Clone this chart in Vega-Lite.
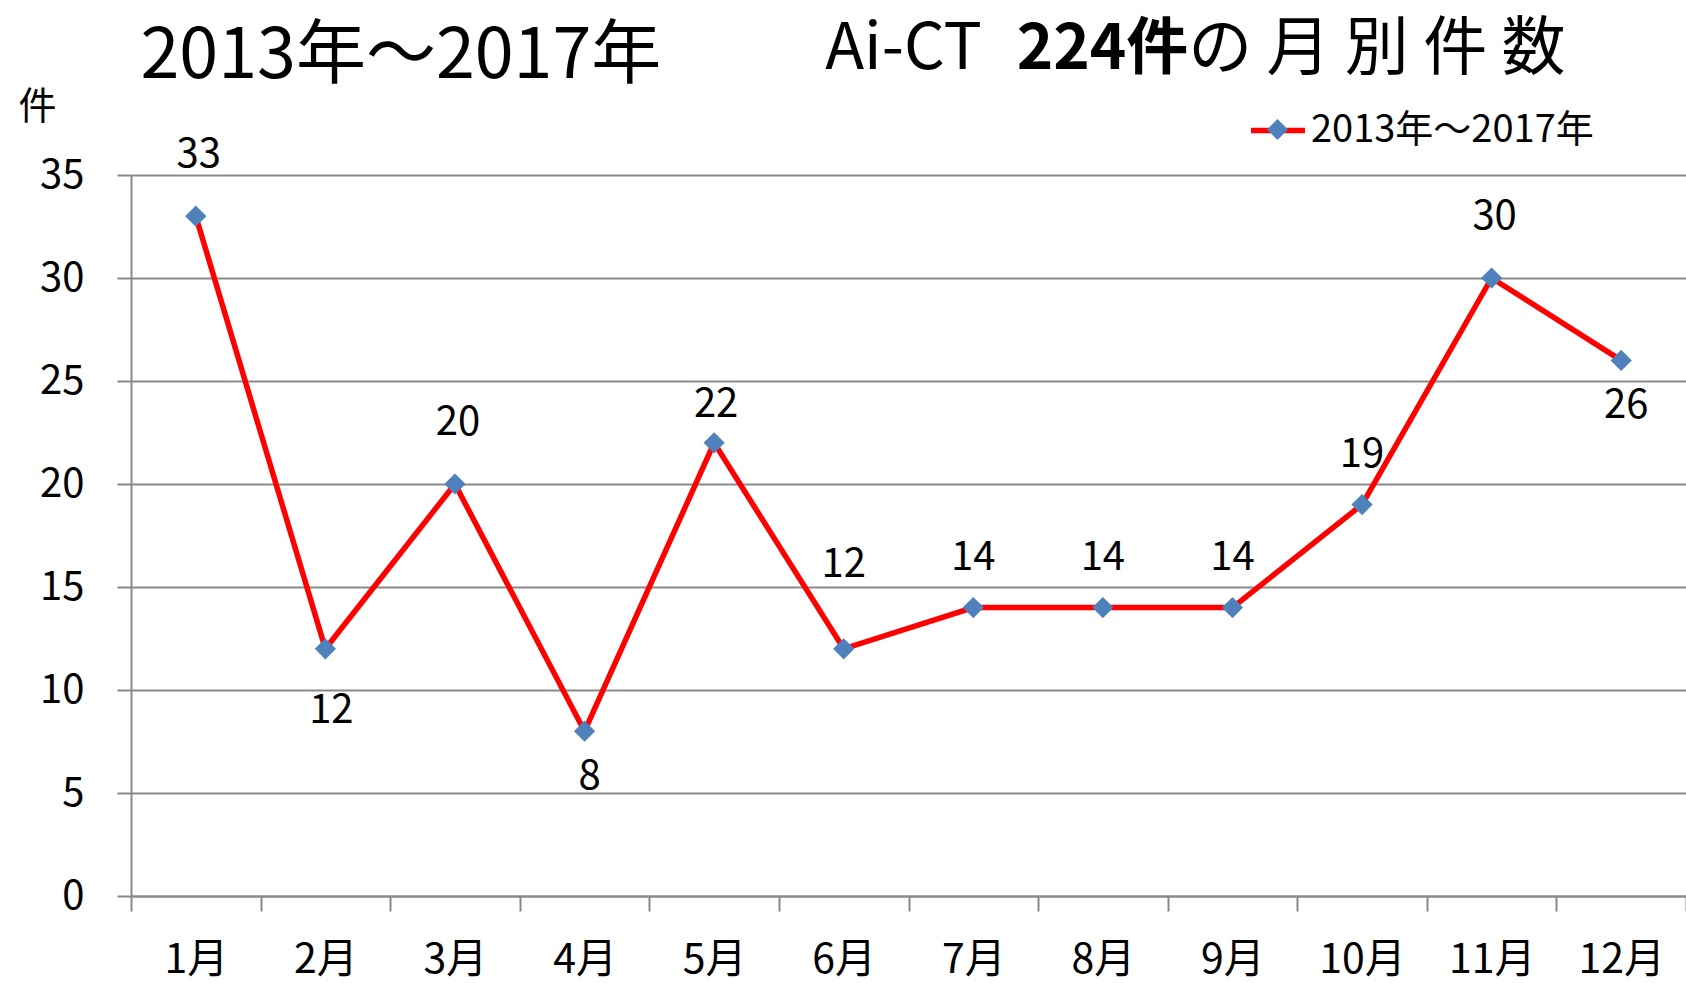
{
  "$schema": "https://vega.github.io/schema/vega-lite/v6.json",
  "width": 1555,
  "height": 721,
  "autosize": {"type": "none"},
  "padding": {"left": 131, "top": 175, "right": 0, "bottom": 87},
  "background": "white",
  "config": {"view": {"stroke": null}, "font": "Noto Sans CJK JP"},
  "data": {
    "values": [
      {"month": "1月", "count": 33, "series": "2013年～2017年"},
      {"month": "2月", "count": 12, "series": "2013年～2017年"},
      {"month": "3月", "count": 20, "series": "2013年～2017年"},
      {"month": "4月", "count": 8, "series": "2013年～2017年"},
      {"month": "5月", "count": 22, "series": "2013年～2017年"},
      {"month": "6月", "count": 12, "series": "2013年～2017年"},
      {"month": "7月", "count": 14, "series": "2013年～2017年"},
      {"month": "8月", "count": 14, "series": "2013年～2017年"},
      {"month": "9月", "count": 14, "series": "2013年～2017年"},
      {"month": "10月", "count": 19, "series": "2013年～2017年"},
      {"month": "11月", "count": 30, "series": "2013年～2017年"},
      {"month": "12月", "count": 26, "series": "2013年～2017年"}
    ]
  },
  "layer": [
    {
      "mark": {"type": "line", "strokeWidth": 5.5},
      "encoding": {
        "x": {
          "field": "month", "type": "ordinal", "sort": null,
          "scale": {"type": "band", "paddingInner": 0, "paddingOuter": 0},
          "axis": {
            "orient": "bottom", "labelAngle": 0, "labelFontSize": 41, "labelColor": "black",
            "labelFont": "Noto Sans CJK JP", "labelBaseline": "alphabetic", "labelPadding": 61,
            "tickBand": "extent", "tickSize": 15, "tickColor": "#898989", "tickWidth": 2,
            "domainColor": "#898989", "domainWidth": 2, "grid": false,
            "title": "2013年～2017年", "titleFontSize": 70, "titleFontWeight": "normal",
            "titleColor": "black", "titleFont": "Noto Sans CJK JP",
            "titleX": 9, "titleY": -819, "titleAlign": "left", "titleBaseline": "alphabetic"
          }
        },
        "y": {
          "field": "count", "type": "quantitative",
          "scale": {"domain": [0, 35], "nice": false},
          "axis": {
            "values": [0, 5, 10, 15, 20, 25, 30, 35],
            "grid": true, "gridColor": "#898989", "gridWidth": 2,
            "domainColor": "#898989", "domainWidth": 2,
            "tickColor": "#898989", "tickWidth": 2, "tickSize": 14,
            "labelFontSize": 40, "labelPadding": 33, "labelColor": "black", "labelFont": "Noto Sans CJK JP",
            "title": "件", "titleAngle": 0, "titleX": -94, "titleY": -68,
            "titleAlign": "center", "titleBaseline": "middle", "titleFontSize": 38,
            "titleFontWeight": "normal", "titleColor": "black", "titleFont": "Noto Sans CJK JP"
          }
        },
        "color": {
          "field": "series", "type": "nominal",
          "scale": {"range": ["#FF0000"]},
          "legend": {
            "orient": "none", "legendX": 1117, "legendY": -74.5, "title": null,
            "padding": 0, "labelFontSize": 38, "labelColor": "black", "labelFont": "Noto Sans CJK JP",
            "labelLimit": 0,
            "symbolType": "stroke", "symbolStrokeWidth": 5.5, "symbolSize": 2916, "labelOffset": 3
          }
        }
      }
    },
    {
      "mark": {"type": "point", "filled": true, "size": 450, "color": "#4F81BD", "opacity": 1},
      "encoding": {
        "x": {
          "field": "month", "type": "ordinal", "sort": null,
          "axis": {
            "orient": "top", "labels": false, "ticks": false, "domain": false, "grid": false,
            "title": "Ai-CT　　　 の 月 別 件 数",
            "titleFontSize": 64, "titleFontWeight": "normal", "titleColor": "black",
            "titleFont": "Noto Sans CJK JP", "titleLimit": 0,
            "titleX": 1434, "titleY": -107, "titleAlign": "right", "titleBaseline": "alphabetic"
          }
        },
        "y": {
          "field": "count", "type": "quantitative",
          "axis": {
            "orient": "right", "labels": false, "ticks": false, "domain": false, "grid": false,
            "title": "224件", "titleAngle": 0, "titleFontSize": 62, "titleFontWeight": "bold",
            "titleColor": "black", "titleFont": "Noto Sans CJK JP", "titleLimit": 0,
            "titleX": -584, "titleY": -107, "titleAlign": "center", "titleBaseline": "alphabetic"
          }
        },
        "shape": {
          "field": "series", "type": "nominal",
          "scale": {"domain": ["2013年～2017年"], "range": ["diamond"]},
          "legend": {
            "orient": "none", "legendX": 1136, "legendY": -56, "title": null,
            "padding": 0, "labelFontSize": 10, "labelExpr": "''",
            "symbolFillColor": "#4F81BD", "symbolStrokeWidth": 0, "symbolSize": 440, "symbolOpacity": 1
          }
        }
      }
    },
    {
      "transform": [{"filter": {"field": "month", "oneOf": ["1月", "3月", "11月"]}}],
      "mark": {"type": "text", "fontSize": 40, "dy": -61, "dx": 3, "baseline": "middle", "color": "black", "font": "Noto Sans CJK JP"},
      "encoding": {
        "x": {"field": "month", "type": "ordinal", "sort": null, "axis": null},
        "y": {"field": "count", "type": "quantitative", "axis": null},
        "text": {"field": "count", "type": "quantitative"}
      }
    },
    {
      "transform": [{"filter": {"field": "month", "oneOf": ["6月"]}}],
      "mark": {"type": "text", "fontSize": 40, "dy": -84, "baseline": "middle", "color": "black", "font": "Noto Sans CJK JP"},
      "encoding": {
        "x": {"field": "month", "type": "ordinal", "sort": null, "axis": null},
        "y": {"field": "count", "type": "quantitative", "axis": null},
        "text": {"field": "count", "type": "quantitative"}
      }
    },
    {
      "transform": [{"filter": {"field": "month", "oneOf": ["5月"]}}],
      "mark": {"type": "text", "fontSize": 40, "dy": -38, "dx": 2, "baseline": "middle", "color": "black", "font": "Noto Sans CJK JP"},
      "encoding": {
        "x": {"field": "month", "type": "ordinal", "sort": null, "axis": null},
        "y": {"field": "count", "type": "quantitative", "axis": null},
        "text": {"field": "count", "type": "quantitative"}
      }
    },
    {
      "transform": [{"filter": {"field": "month", "oneOf": ["7月", "8月", "9月", "10月"]}}],
      "mark": {"type": "text", "fontSize": 40, "dy": -50, "baseline": "middle", "color": "black", "font": "Noto Sans CJK JP"},
      "encoding": {
        "x": {"field": "month", "type": "ordinal", "sort": null, "axis": null},
        "y": {"field": "count", "type": "quantitative", "axis": null},
        "text": {"field": "count", "type": "quantitative"}
      }
    },
    {
      "transform": [{"filter": {"field": "month", "oneOf": ["2月"]}}],
      "mark": {"type": "text", "fontSize": 40, "dy": 62, "dx": 6, "baseline": "middle", "color": "black", "font": "Noto Sans CJK JP"},
      "encoding": {
        "x": {"field": "month", "type": "ordinal", "sort": null, "axis": null},
        "y": {"field": "count", "type": "quantitative", "axis": null},
        "text": {"field": "count", "type": "quantitative"}
      }
    },
    {
      "transform": [{"filter": {"field": "month", "oneOf": ["4月", "12月"]}}],
      "mark": {"type": "text", "fontSize": 40, "dy": 46, "dx": 5, "baseline": "middle", "color": "black", "font": "Noto Sans CJK JP"},
      "encoding": {
        "x": {"field": "month", "type": "ordinal", "sort": null, "axis": null},
        "y": {"field": "count", "type": "quantitative", "axis": null},
        "text": {"field": "count", "type": "quantitative"}
      }
    }
  ],
  "resolve": {"axis": {"x": "independent", "y": "independent"}}
}
